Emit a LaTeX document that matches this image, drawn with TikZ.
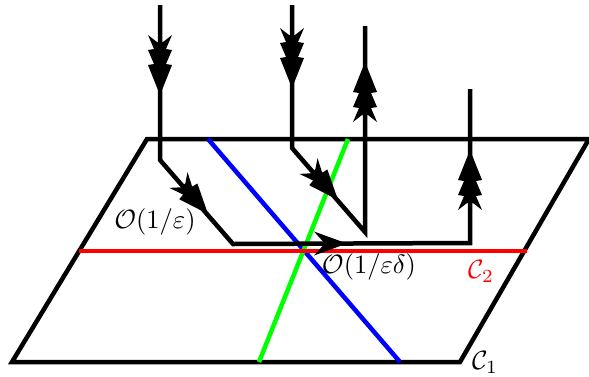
\documentclass[tikz,border=0pt]{standalone}
\begin{document}
\begin{tikzpicture}[
	x=1pt, y=-1pt,
	edge/.style={draw=black, line width=4.5pt},
	curve/.style={line width=4.5pt},
	lbl/.style={scale=2.65, inner sep=0pt},
	firone/.pic={\fill[black] (0,0)--(-33,12)--(-24,2)--(-24,-2)--(-33,-12)--cycle;},
	firtwo/.pic={\fill[black] (0,0)--(-30,12)--(-31,6)--(-45,12)--(-38,3)--(-38,-3)--(-45,-12)--(-31,-6)--(-30,-12)--cycle;},
	firthree/.pic={\fill[black] (0,0)--(-30,12)--(-31,6)--(-45,12)--(-46,6)--(-60,12)--(-53,3)--(-53,-3)--(-60,-12)--(-46,-6)--(-45,-12)--(-31,-6)--(-30,-12)--cycle;}
	]
	
	\useasboundingbox (0,0) rectangle (589,376);
	
	\coordinate (tl) at (147,139);
	\coordinate (tr) at (589,139);
	\coordinate (br) at (460,362);
	\coordinate (bl) at (12,362);
	\coordinate (r1) at (79,251);
	\coordinate (r2) at (527,251);
	\coordinate (g1) at (348,139);
	\coordinate (g2) at (259,362);
	\coordinate (b1) at (208,139);
	\coordinate (b2) at (400,362);
	
	\draw[edge] (tl)--(tr)--(br)--(bl)--cycle;
	\draw[curve, blue] (b1)--(b2);
	\draw[curve, green] (g1)--(g2);
	\draw[curve, red] (r1)--(r2);
	
	\coordinate (a0) at (160,5);
	\coordinate (a1) at (160,160);
	\coordinate (a2) at (233,244);
	\coordinate (a3) at (470,243);
	\coordinate (a4) at (470,89);
	\draw[edge] (a0)--(a1)--(a2)--(a3)--(a4);
	\pic[rotate=-90] (at1) at (160,95) {firthree};
	\pic[rotate=-49] (at2) at (208,214) {firtwo};
	\pic (at3) at (347,243.5) {firone};
	\pic[rotate=90] (at4) at (470,150) {firthree};
	
	\coordinate (c0) at (292,5);
	\coordinate (c1) at (292,148);
	\coordinate (c2) at (365,232);
	\coordinate (c3) at (365,26);
	\draw[edge] (c0)--(c1)--(c2)--(c3);
	\pic[rotate=-90] (ct1) at (292,88) {firthree};
	\pic[rotate=-49] (ct2) at (338,200) {firtwo};
	\pic[rotate=90] (ct3) at (365,62) {firthree};
	
	\node[lbl] (eps) at (155,222) {$\mathcal{O}(1/\varepsilon)$};
	\node[lbl] (epsd) at (369,267) {$\mathcal{O}(1/\varepsilon\delta)$};
	\node[lbl, text=red] (ctwo) at (481,271) {$\mathcal{C}_2$};
	\node[lbl] (cone) at (485,362) {$\mathcal{C}_1$};
\end{tikzpicture}
\end{document}
